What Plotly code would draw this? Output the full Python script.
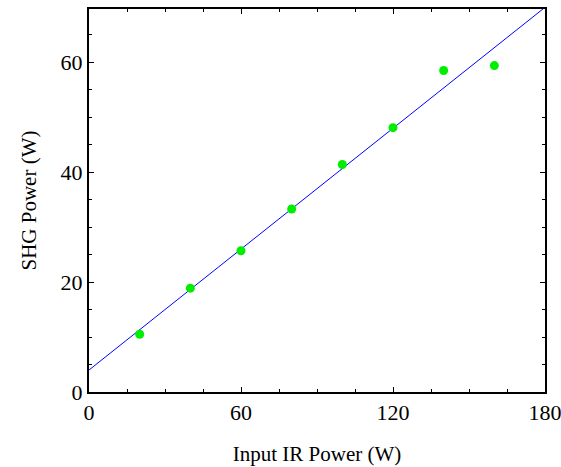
import plotly.graph_objects as go

ir_power = [20, 40, 60, 80, 100, 120, 140, 160]
shg_power = [10.5, 18.9, 25.7, 33.3, 41.4, 48.1, 58.5, 59.4]
fit_x = [0, 180]
fit_y = [4.0, 70.0]

fig = go.Figure()
fig.add_trace(go.Scatter(x=fit_x, y=fit_y, mode="lines",
                         line=dict(color="#0000ff", width=1), showlegend=False))
fig.add_trace(go.Scatter(x=ir_power, y=shg_power, mode="markers",
                         marker=dict(color="#00ee00", size=9), showlegend=False))

font = dict(family="Liberation Serif, Times New Roman, serif", color="black")
fig.update_layout(
    width=561, height=467,
    margin=dict(l=89, r=16, t=9, b=75),
    paper_bgcolor="white", plot_bgcolor="white",
    font=dict(**font, size=21),
)
fig.update_xaxes(range=[0, 180], tickvals=[0, 60, 120, 180], showgrid=False, zeroline=False,
                 showline=True, linecolor="black", linewidth=2, mirror="ticks",
                 ticks="inside", ticklen=5, tickcolor="black", automargin=False,
                 ticklabeloverflow="allow",
                 minor=dict(ticks="inside", dtick=15, ticklen=3, tickcolor="black", showgrid=False),
                 tickfont=dict(size=22),
                 title=dict(text="Input IR Power (W)", font=dict(size=21), standoff=22))
fig.update_yaxes(range=[0, 69.7], tickvals=[0, 20, 40, 60], showgrid=False, zeroline=False,
                 showline=True, linecolor="black", linewidth=2, mirror="ticks",
                 ticks="inside", ticklen=5, tickcolor="black", automargin=False,
                 minor=dict(ticks="inside", dtick=5, ticklen=3, tickcolor="black", showgrid=False),
                 tickfont=dict(size=22),
                 title=dict(text="SHG Power (W)", font=dict(size=21), standoff=18))

fig.write_html("out.html")
